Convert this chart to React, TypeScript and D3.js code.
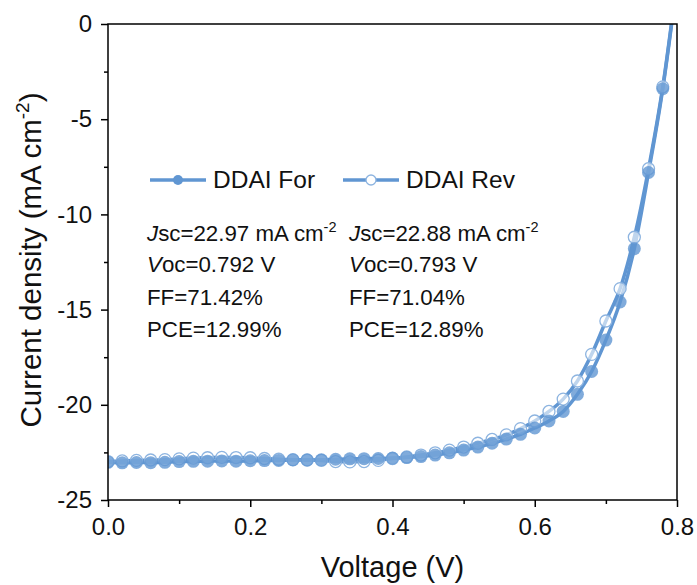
import React, { useEffect, useRef } from 'react';
import * as d3 from 'd3';

// J-V data (voltage in V, current density in mA cm^-2)
const voltage = [
  0, 0.02, 0.04, 0.06, 0.08, 0.1, 0.12, 0.14, 0.16, 0.18, 0.2, 0.22, 0.24, 0.26, 0.28, 0.3,
  0.32, 0.34, 0.36, 0.38, 0.4, 0.42, 0.44, 0.46, 0.48, 0.5, 0.52, 0.54, 0.56, 0.58, 0.6,
  0.62, 0.64, 0.66, 0.68, 0.7, 0.72, 0.74, 0.76, 0.78, 0.8,
];
const forJ = [
  -23.02, -23.05, -23.03, -23.04, -23.02, -22.98, -22.97, -22.96, -22.95, -22.96, -22.94,
  -22.93, -22.92, -22.9, -22.9, -22.89, -22.86, -22.84, -22.83, -22.82, -22.8, -22.77,
  -22.72, -22.64, -22.52, -22.38, -22.22, -22.02, -21.8, -21.55, -21.22, -20.85, -20.35,
  -19.45, -18.25, -16.6, -14.6, -11.8, -7.8, -3.4, 2.2,
];
const revJ = [
  -22.98, -22.95, -22.92, -22.9, -22.88, -22.84, -22.8, -22.78, -22.76, -22.77, -22.78,
  -22.82, -22.86, -22.88, -22.9, -22.92, -22.98, -23.0, -22.98, -22.92, -22.82, -22.74,
  -22.64, -22.52, -22.38, -22.22, -22.02, -21.82, -21.58, -21.25, -20.85, -20.35, -19.7,
  -18.75, -17.35, -15.6, -13.9, -11.2, -7.6, -3.3, 2.3,
];
const seriesNames = ['DDAI For', 'DDAI Rev'];
const xTicks = [0, 0.2, 0.4, 0.6, 0.8];
const yTicks = [0, -5, -10, -15, -20, -25];
const paramsFor = ['22.97', '0.792', '71.42', '12.99'];
const paramsRev = ['22.88', '0.793', '71.04', '12.89'];

const W = 697;
const H = 585;
const BLUE = '#6096d2';
const RING = '#8db4e0';
const FONT = 'Arial, "Liberation Sans", sans-serif';

export default function App() {
  const ref = useRef<SVGSVGElement>(null);

  useEffect(() => {
    const svg = d3.select(ref.current);
    svg.selectAll('*').remove();

    const m = { left: 108, right: 677, top: 24, bottom: 500 };
    const x = d3.scaleLinear().domain([0, 0.8]).range([m.left, m.right]);
    const y = d3.scaleLinear().domain([-25, 0]).range([m.bottom, m.top]);

    svg.append('defs').append('clipPath').attr('id', 'plot')
      .append('rect')
      .attr('x', m.left).attr('y', m.top)
      .attr('width', m.right - m.left).attr('height', m.bottom - m.top);

    const isMajor = (list: number[]) => (d: any) => list.some(t => Math.abs(t - d) < 1e-6);

    // axes: minor + major ticks, then labels
    const xAxis = svg.append('g').attr('transform', `translate(0,${m.bottom})`);
    xAxis.call(d3.axisBottom(x).tickValues(d3.range(0, 0.81, 0.1)).tickSize(4).tickFormat(() => ''));
    xAxis.selectAll('.tick').filter(isMajor(xTicks)).select('line').attr('y2', 7);
    xAxis.selectAll('.domain').remove();
    const xLab = svg.append('g').attr('transform', `translate(0,${m.bottom})`);
    xLab.call(d3.axisBottom(x).tickValues(xTicks).tickSize(0).tickPadding(18).tickFormat(d3.format('.1f')));
    xLab.selectAll('.domain').remove();

    const yAxis = svg.append('g').attr('transform', `translate(${m.left},0)`);
    yAxis.call(d3.axisLeft(y).tickValues(d3.range(-25, 0.1, 2.5)).tickSize(4).tickFormat(() => ''));
    yAxis.selectAll('.tick').filter(isMajor(yTicks)).select('line').attr('x2', -7);
    yAxis.selectAll('.domain').remove();
    const yLab = svg.append('g').attr('transform', `translate(${m.left},0)`);
    yLab.call(d3.axisLeft(y).tickValues(yTicks).tickSize(0).tickPadding(16).tickFormat(d => String(d)));
    yLab.selectAll('.domain').remove();

    svg.selectAll('.tick line').attr('stroke', '#000').attr('stroke-width', 1.5);
    svg.selectAll('.tick text')
      .attr('font-family', FONT).attr('font-size', 24).attr('fill', '#111');

    // data
    const plot = svg.append('g').attr('clip-path', 'url(#plot)');
    const line = d3.line<number>()
      .x((_, i) => x(voltage[i]))
      .y(d => y(d))
      .curve(d3.curveMonotoneX);

    [revJ, forJ].forEach(s => {
      plot.append('path').datum(s)
        .attr('d', line)
        .attr('fill', 'none')
        .attr('stroke', BLUE)
        .attr('stroke-width', 3.5);
    });

    plot.selectAll('.rev').data(revJ).enter().append('circle')
      .attr('cx', (_, i) => x(voltage[i])).attr('cy', d => y(d)).attr('r', 6)
      .attr('fill', 'rgba(255,255,255,0.6)').attr('stroke', RING).attr('stroke-width', 1.3);
    plot.selectAll('.for').data(forJ).enter().append('circle')
      .attr('cx', (_, i) => x(voltage[i])).attr('cy', d => y(d)).attr('r', 6.5)
      .attr('fill', BLUE).attr('fill-opacity', 0.8);

    // frame
    svg.append('rect')
      .attr('x', m.left).attr('y', m.top)
      .attr('width', m.right - m.left).attr('height', m.bottom - m.top)
      .attr('fill', 'none').attr('stroke', '#000').attr('stroke-width', 1.5);

    // legend
    const legend = [
      { name: seriesNames[0], x0: 150, filled: true },
      { name: seriesNames[1], x0: 343, filled: false },
    ];
    legend.forEach(l => {
      svg.append('line')
        .attr('x1', l.x0).attr('x2', l.x0 + 56).attr('y1', 180).attr('y2', 180)
        .attr('stroke', BLUE).attr('stroke-width', 3.5);
      svg.append('circle')
        .attr('cx', l.x0 + 28).attr('cy', 180).attr('r', 5)
        .attr('fill', l.filled ? BLUE : '#fff')
        .attr('stroke', l.filled ? 'none' : RING).attr('stroke-width', 1.3);
      svg.append('text')
        .attr('x', l.x0 + 63).attr('y', 188)
        .attr('font-family', FONT).attr('font-size', 24.5).attr('fill', '#111')
        .text(l.name);
    });

    // device parameters
    const fs = 22.3;
    const addParams = (x0: number, p: string[]) => {
      const t1 = svg.append('text').attr('x', x0).attr('y', 241)
        .attr('font-family', FONT).attr('font-size', fs).attr('fill', '#111');
      t1.append('tspan').attr('font-style', 'italic').text('J');
      t1.append('tspan').text(`sc=${p[0]} mA cm`);
      t1.append('tspan').attr('font-size', 14.5).attr('dy', -9).text('-2');
      const t2 = svg.append('text').attr('x', x0).attr('y', 272)
        .attr('font-family', FONT).attr('font-size', fs).attr('fill', '#111');
      t2.append('tspan').attr('font-style', 'italic').text('V');
      t2.append('tspan').text(`oc=${p[1]} V`);
      svg.append('text').attr('x', x0).attr('y', 305)
        .attr('font-family', FONT).attr('font-size', fs).attr('fill', '#111')
        .text(`FF=${p[2]}%`);
      svg.append('text').attr('x', x0).attr('y', 337)
        .attr('font-family', FONT).attr('font-size', fs).attr('fill', '#111')
        .text(`PCE=${p[3]}%`);
    };
    addParams(147, paramsFor);
    addParams(349, paramsRev);

    // axis titles
    svg.append('text')
      .attr('x', (m.left + m.right) / 2).attr('y', 577)
      .attr('text-anchor', 'middle')
      .attr('font-family', FONT).attr('font-size', 29).attr('fill', '#111')
      .text('Voltage (V)');
    const yt = svg.append('text')
      .attr('transform', `translate(41,260) rotate(-90)`)
      .attr('text-anchor', 'middle')
      .attr('font-family', FONT).attr('font-size', 29.5).attr('fill', '#111');
    yt.append('tspan').text('Current density (mA cm');
    yt.append('tspan').attr('font-size', 19).attr('dy', -12).text('-2');
    yt.append('tspan').attr('dy', 12).text(')');
  }, []);

  return (
    <svg
      ref={ref}
      width={W}
      height={H}
      style={{ position: 'absolute', left: 0, top: 0, display: 'block', background: '#fff' }}
    />
  );
}
